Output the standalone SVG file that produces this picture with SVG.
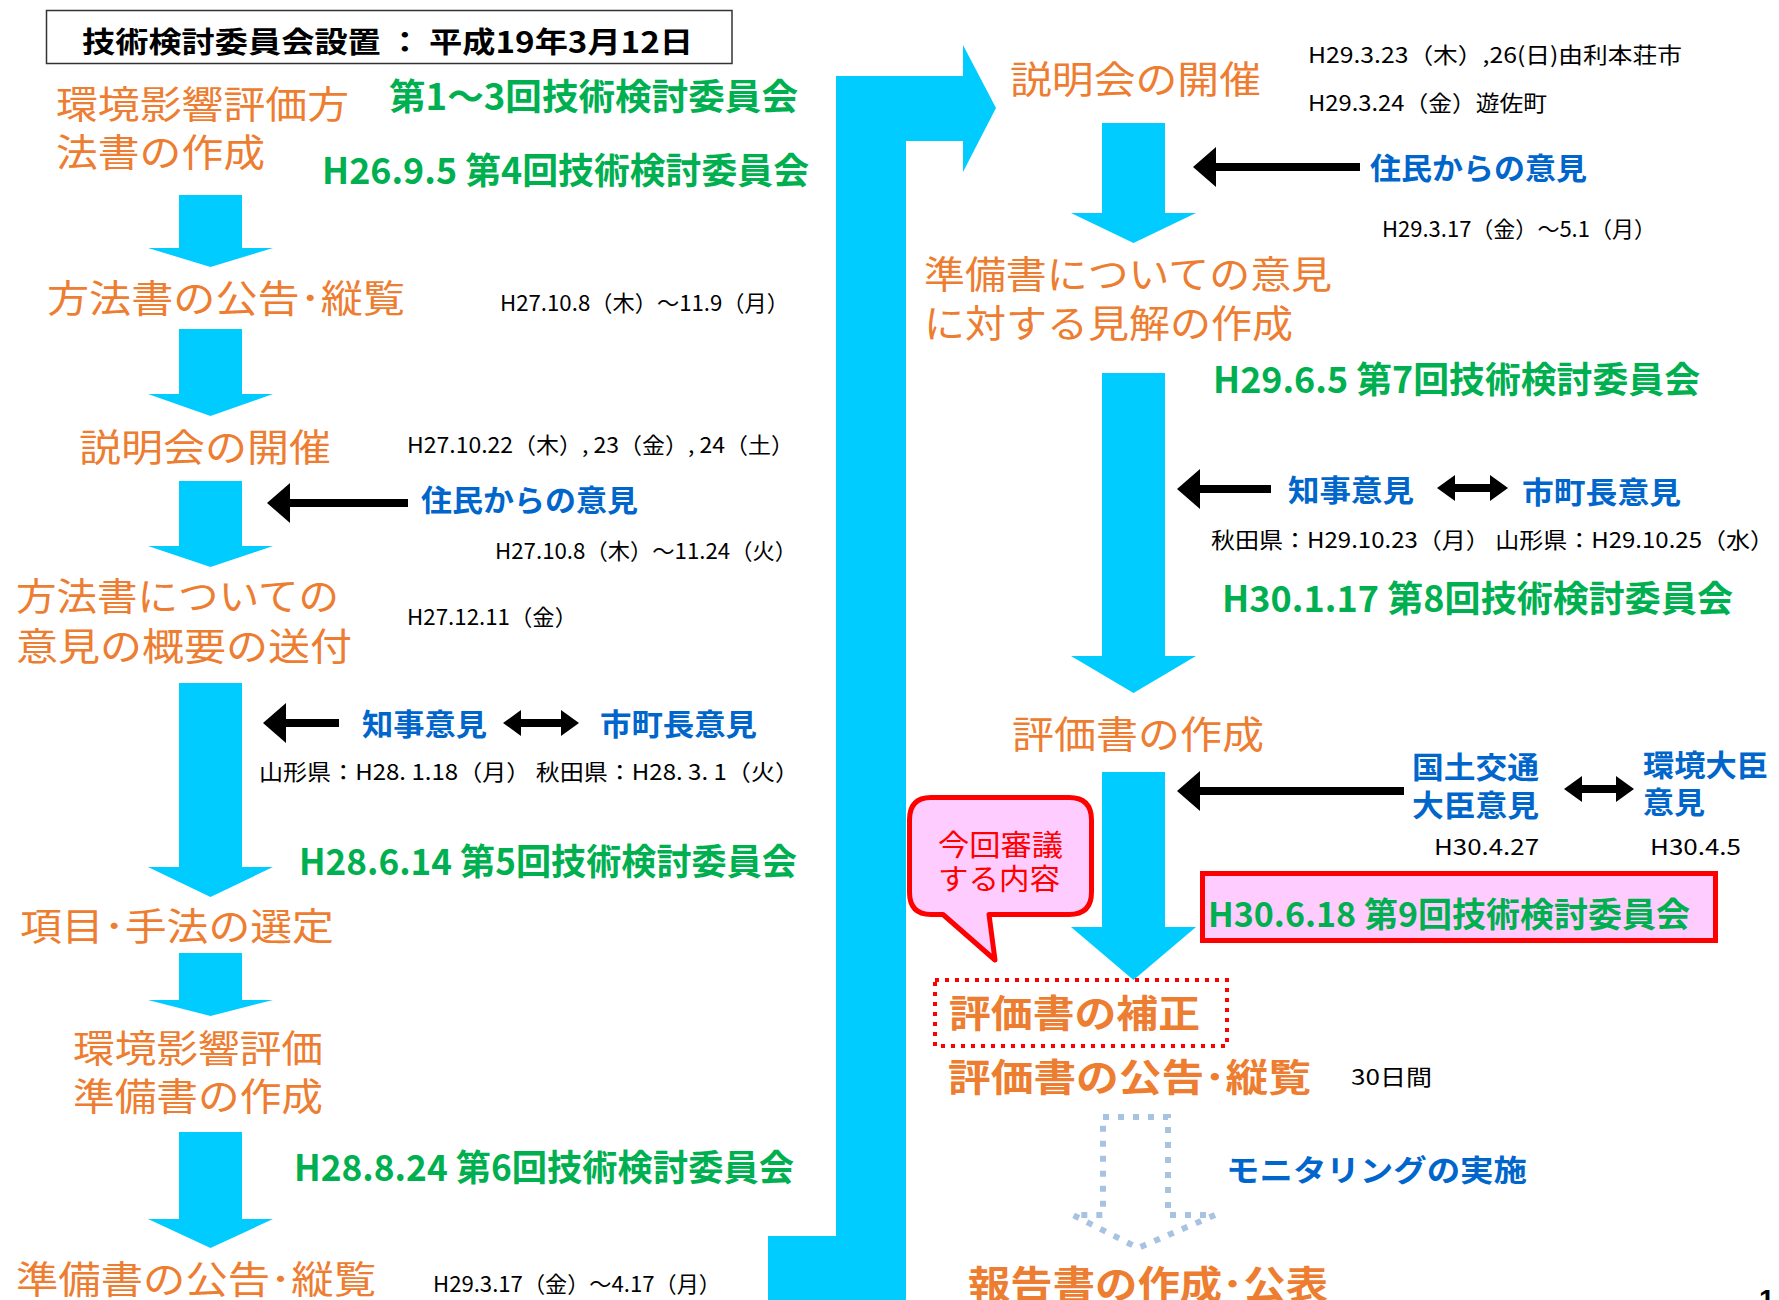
<svg xmlns="http://www.w3.org/2000/svg" width="1779" height="1300" viewBox="0 0 1779 1300">
<style>
text{font-family:'Noto Sans CJK JP','Noto Sans',sans-serif;dominant-baseline:central}
.o{fill:#ED7D31;font-size:38px}
.ob{font-weight:bold}
.g{fill:#00B050;font-size:36px;font-weight:bold}
.b{fill:#0066CC;font-size:30px;font-weight:bold}
.k{fill:#000;font-size:22px}
.t{fill:#000;font-size:29px;font-weight:bold}
.r{fill:#FF0000;font-size:29px}
.flow{fill:#00CCFF}
.bl{stroke:#000;stroke-width:8;fill:none}
</style>
<defs>
<marker id="ah" markerUnits="userSpaceOnUse" markerWidth="24" markerHeight="40" viewBox="0 0 24 40" refX="0" refY="20" orient="auto"><path d="M0,0 L23,20 L0,40 Z" fill="#000"/></marker>
<marker id="dh" markerUnits="userSpaceOnUse" markerWidth="18" markerHeight="26" viewBox="0 0 18 26" refX="0" refY="13" orient="auto-start-reverse"><path d="M0,0 L18,13 L0,26 Z" fill="#000"/></marker>
</defs>
<rect width="1779" height="1300" fill="#fff"/>

<g id="connectors">
<polygon class="flow" points="768,1236 836,1236 836,76 963,76 963,45 996,108 963,172 963,141 906,141 906,1300 768,1300"/>
<polygon class="flow" points="179,195 242,195 242,248 273,248 210.5,267 148,248 179,248"/>
<polygon class="flow" points="179,329 242,329 242,394 273,394 210.5,416 148,394 179,394"/>
<polygon class="flow" points="179,481 242,481 242,546 273,546 210.5,567 148,546 179,546"/>
<polygon class="flow" points="179,683 242,683 242,867 273,867 210.5,897 148,867 179,867"/>
<polygon class="flow" points="179,953 242,953 242,1000 273,1000 210.5,1016 148,1000 179,1000"/>
<polygon class="flow" points="179,1132 242,1132 242,1219 273,1219 210.5,1248 148,1219 179,1219"/>
<polygon class="flow" points="1102,123 1165,123 1165,213 1196,213 1133.5,243 1071,213 1102,213"/>
<polygon class="flow" points="1102,373 1165,373 1165,656 1196,656 1133.5,693 1071,656 1102,656"/>
<polygon class="flow" points="1102,772 1165,772 1165,927 1196,927 1133.5,980 1071,927 1102,927"/>
<path d="M1103,1117 L1168,1117 L1168,1215 L1215,1215 L1138,1248 L1073,1215 L1103,1215 Z" fill="none" stroke="#A8C2E2" stroke-width="6" stroke-dasharray="6 9"/>
<line class="bl" x1="408" y1="503" x2="290" y2="503" marker-end="url(#ah)"/>
<line class="bl" x1="339" y1="723" x2="286" y2="723" marker-end="url(#ah)"/>
<line class="bl" x1="521" y1="723" x2="561" y2="723" marker-start="url(#dh)" marker-end="url(#dh)"/>
<line class="bl" x1="1360" y1="167" x2="1216" y2="167" marker-end="url(#ah)"/>
<line class="bl" x1="1271" y1="489" x2="1200" y2="489" marker-end="url(#ah)"/>
<line class="bl" x1="1455" y1="488" x2="1490" y2="488" marker-start="url(#dh)" marker-end="url(#dh)"/>
<line class="bl" x1="1404" y1="791" x2="1200" y2="791" marker-end="url(#ah)"/>
<line class="bl" x1="1582" y1="789" x2="1616" y2="789" marker-start="url(#dh)" marker-end="url(#dh)"/>
</g>

<g id="title">
<rect x="46.5" y="10.5" width="685.5" height="53" fill="#fff" stroke="#333" stroke-width="1.5"/>
<text class="t" x="82" y="40" textLength="611" lengthAdjust="spacingAndGlyphs">技術検討委員会設置 ： 平成19年3月12日</text>
</g>

<g id="n1"><text class="o" x="56" y="101" textLength="293" lengthAdjust="spacingAndGlyphs">環境影響評価方</text><text class="o" x="56" y="149" textLength="209" lengthAdjust="spacingAndGlyphs">法書の作成</text></g>
<g id="c1"><text class="g" x="389" y="94" textLength="409" lengthAdjust="spacingAndGlyphs">第1〜3回技術検討委員会</text></g>
<g id="c4"><text class="g" x="322" y="168" textLength="487" lengthAdjust="spacingAndGlyphs">H26.9.5  第4回技術検討委員会</text></g>
<g id="n2"><text class="o" x="47" y="295" textLength="358" lengthAdjust="spacingAndGlyphs">方法書の公告･縦覧</text></g>
<g id="d1"><text class="k" x="500" y="301" textLength="289" lengthAdjust="spacingAndGlyphs">H27.10.8（木）〜11.9（月）</text></g>
<g id="n3"><text class="o" x="79" y="444" textLength="252" lengthAdjust="spacingAndGlyphs">説明会の開催</text></g>
<g id="d2"><text class="k" x="407" y="443" textLength="387" lengthAdjust="spacingAndGlyphs">H27.10.22（木）, 23（金）, 24（土）</text></g>
<g id="v1"><text class="b" x="421" y="498" textLength="217" lengthAdjust="spacingAndGlyphs">住民からの意見</text></g>
<g id="d3"><text class="k" x="495" y="549" textLength="302" lengthAdjust="spacingAndGlyphs">H27.10.8（木）〜11.24（火）</text></g>
<g id="n4"><text class="o" x="16" y="593" textLength="323" lengthAdjust="spacingAndGlyphs">方法書についての</text><text class="o" x="16" y="643" textLength="336" lengthAdjust="spacingAndGlyphs">意見の概要の送付</text></g>
<g id="d4"><text class="k" x="407" y="615" textLength="170" lengthAdjust="spacingAndGlyphs">H27.12.11（金）</text></g>
<g id="v2"><text class="b" x="362" y="722" textLength="125" lengthAdjust="spacingAndGlyphs">知事意見</text></g>
<g id="v3"><text class="b" x="600" y="722" textLength="157" lengthAdjust="spacingAndGlyphs">市町長意見</text></g>
<g id="d5"><text class="k" x="259" y="770" textLength="540" lengthAdjust="spacingAndGlyphs">山形県：H28. 1.18（月） 秋田県：H28. 3. 1（火）</text></g>
<g id="c5"><text class="g" x="299" y="859" textLength="498" lengthAdjust="spacingAndGlyphs">H28.6.14 第5回技術検討委員会</text></g>
<g id="n5"><text class="o" x="20" y="923" textLength="314" lengthAdjust="spacingAndGlyphs">項目･手法の選定</text></g>
<g id="n6"><text class="o" x="73" y="1045" textLength="250" lengthAdjust="spacingAndGlyphs">環境影響評価</text><text class="o" x="73" y="1093" textLength="250" lengthAdjust="spacingAndGlyphs">準備書の作成</text></g>
<g id="c6"><text class="g" x="294" y="1165" textLength="500" lengthAdjust="spacingAndGlyphs">H28.8.24 第6回技術検討委員会</text></g>
<g id="n7"><text class="o" x="16" y="1276" textLength="360" lengthAdjust="spacingAndGlyphs">準備書の公告･縦覧</text></g>
<g id="d6"><text class="k" x="433" y="1282" textLength="288" lengthAdjust="spacingAndGlyphs">H29.3.17（金）〜4.17（月）</text></g>

<g id="n8"><text class="o" x="1010" y="76" textLength="251" lengthAdjust="spacingAndGlyphs">説明会の開催</text></g>
<g id="d7"><text class="k" x="1308" y="53" textLength="374" lengthAdjust="spacingAndGlyphs">H29.3.23（木）,26(日)由利本荘市</text><text class="k" x="1308" y="101" textLength="239" lengthAdjust="spacingAndGlyphs">H29.3.24（金）遊佐町</text></g>
<g id="v4"><text class="b" x="1370" y="166" textLength="217" lengthAdjust="spacingAndGlyphs">住民からの意見</text></g>
<g id="d8"><text class="k" x="1382" y="227" textLength="274" lengthAdjust="spacingAndGlyphs">H29.3.17（金）〜5.1（月）</text></g>
<g id="n9"><text class="o" x="924" y="271" textLength="408" lengthAdjust="spacingAndGlyphs">準備書についての意見</text><text class="o" x="924" y="320" textLength="369" lengthAdjust="spacingAndGlyphs">に対する見解の作成</text></g>
<g id="c7"><text class="g" x="1213" y="377" textLength="487" lengthAdjust="spacingAndGlyphs">H29.6.5  第7回技術検討委員会</text></g>
<g id="v5"><text class="b" x="1288" y="488" textLength="126" lengthAdjust="spacingAndGlyphs">知事意見</text></g>
<g id="v6"><text class="b" x="1522" y="490" textLength="159" lengthAdjust="spacingAndGlyphs">市町長意見</text></g>
<g id="d9"><text class="k" x="1211" y="538" textLength="563" lengthAdjust="spacingAndGlyphs">秋田県：H29.10.23（月） 山形県：H29.10.25（水）</text></g>
<g id="c8"><text class="g" x="1222" y="596" textLength="511" lengthAdjust="spacingAndGlyphs">H30.1.17  第8回技術検討委員会</text></g>
<g id="n10"><text class="o" x="1012" y="731" textLength="252" lengthAdjust="spacingAndGlyphs">評価書の作成</text></g>
<g id="v7"><text class="b" x="1412" y="765" textLength="127" lengthAdjust="spacingAndGlyphs">国土交通</text><text class="b" x="1412" y="803" textLength="127" lengthAdjust="spacingAndGlyphs">大臣意見</text></g>
<g id="v8"><text class="b" x="1643" y="763" textLength="125" lengthAdjust="spacingAndGlyphs">環境大臣</text><text class="b" x="1643" y="800" textLength="62" lengthAdjust="spacingAndGlyphs">意見</text></g>
<g id="d10"><text class="k" x="1434" y="845" textLength="105" lengthAdjust="spacingAndGlyphs">H30.4.27</text></g>
<g id="d11"><text class="k" x="1650" y="845" textLength="91" lengthAdjust="spacingAndGlyphs">H30.4.5</text></g>
<g id="c9"><rect x="1202.5" y="873.5" width="513" height="67" fill="#FFCCFF" stroke="#FF0000" stroke-width="5"/><text class="g" x="1208" y="912" textLength="482" lengthAdjust="spacingAndGlyphs" style="font-size:34px">H30.6.18 第9回技術検討委員会</text></g>
<g id="callout"><path d="M931,797.5 H1069 Q1091.5,797.5 1091.5,820 V892 Q1091.5,914.5 1069,914.5 H989 L995,960 L943,914.5 H931 Q909.5,914.5 909.5,892 V820 Q909.5,797.5 931,797.5 Z" fill="#FFCCFF" stroke="#FF0000" stroke-width="5" stroke-linejoin="round"/><text class="r" x="938" y="843" textLength="125" lengthAdjust="spacingAndGlyphs">今回審議</text><text class="r" x="938" y="877" textLength="122" lengthAdjust="spacingAndGlyphs">する内容</text></g>
<g id="n11"><rect x="935" y="980" width="292" height="66" fill="none" stroke="#FF0000" stroke-width="4" stroke-dasharray="4 6"/><text class="o ob" x="949" y="1010" textLength="251" lengthAdjust="spacingAndGlyphs">評価書の補正</text></g>
<g id="n12"><text class="o ob" x="948" y="1074" textLength="363" lengthAdjust="spacingAndGlyphs">評価書の公告･縦覧</text></g>
<g id="d12"><text class="k" x="1351" y="1075" textLength="81" lengthAdjust="spacingAndGlyphs">30日間</text></g>
<g id="v9"><text class="b" x="1226" y="1168" textLength="301" lengthAdjust="spacingAndGlyphs">モニタリングの実施</text></g>
<g id="n13"><text class="o ob" x="968" y="1281" textLength="360" lengthAdjust="spacingAndGlyphs">報告書の作成･公表</text></g>
<g id="page"><text x="1759" y="1309" style="font-family:'Liberation Sans',sans-serif;font-size:28px;font-weight:bold;dominant-baseline:alphabetic">1</text></g>
</svg>
